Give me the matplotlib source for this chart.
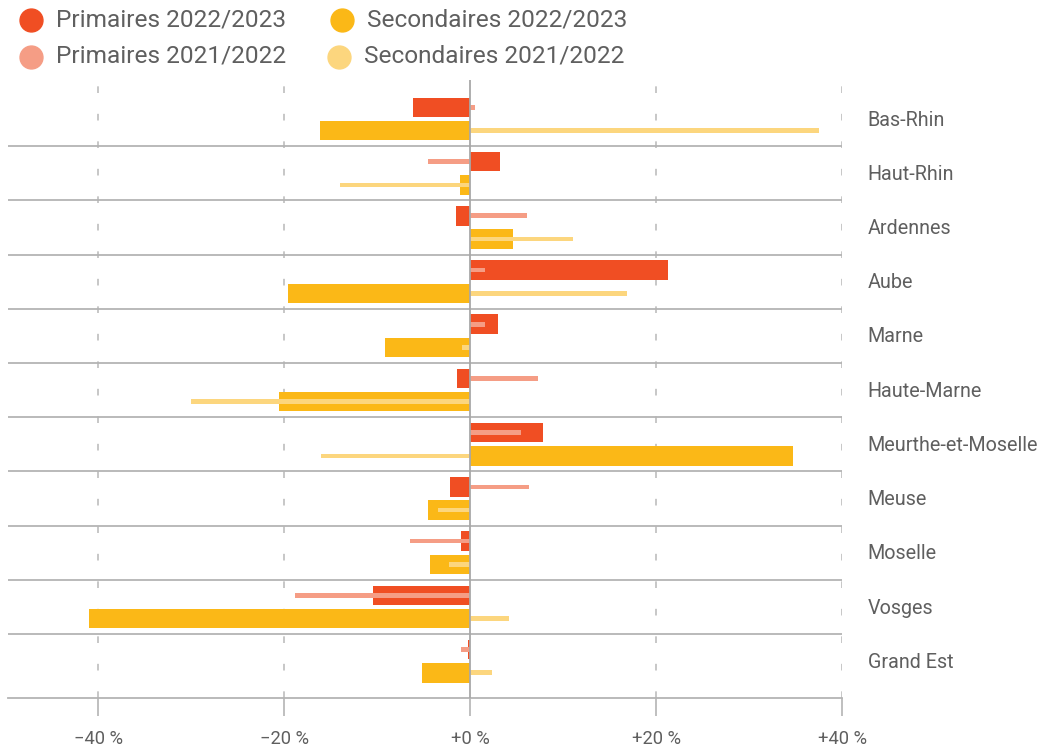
import matplotlib
matplotlib.use('Agg')
import matplotlib.pyplot as plt
from matplotlib.lines import Line2D
import matplotlib.transforms as mtransforms
import numpy as np

plt.rcParams['font.family'] = ['Roboto', 'DejaVu Sans']

# Data: evolution (%) per departement
departements = ['Bas-Rhin', 'Haut-Rhin', 'Ardennes', 'Aube', 'Marne', 'Haute-Marne',
                'Meurthe-et-Moselle', 'Meuse', 'Moselle', 'Vosges', 'Grand Est']
primaires_2223 = [-6.1, 3.2, -1.5, 21.3, 3.0, -1.4, 7.8, -2.2, -1.0, -10.4, -0.2]
primaires_2122 = [0.5, -4.5, 6.1, 1.6, 1.6, 7.3, 5.5, 6.3, -6.5, -18.8, -1.0]
secondaires_2223 = [-16.1, -1.1, 4.6, -19.6, -9.2, -20.6, 34.7, -4.5, -4.3, -41.0, -5.2]
secondaires_2122 = [37.5, -14.0, 11.1, 16.9, -0.9, -30.0, -16.0, -3.5, -2.3, 4.2, 2.4]

xticks = [-40, -20, 0, 20, 40]
xtick_labels = ['\u221240 %', '\u221220 %', '+0 %', '+20 %', '+40 %']

col_p22 = '#F04E23'
col_p21 = '#F59D85'
col_s22 = '#FBB817'
col_s21 = '#FCD67E'
grey_txt = '#5f5f5f'
grey_line = '#b4b4b4'

fig = plt.figure(figsize=(10.46, 7.48), dpi=100)
ax = fig.add_axes([8/1046, 1 - 698/748, (842 - 8)/1046, (698 - 80)/748])

y = np.arange(len(departements))
off = 0.215
thick = 0.36
thin = 0.085

ax.barh(y - off, primaires_2223, height=thick, color=col_p22, zorder=3)
ax.barh(y + off, secondaires_2223, height=thick, color=col_s22, zorder=3)
ax.barh(y - off, primaires_2122, height=thin, color=col_p21, zorder=4)
ax.barh(y + off, secondaires_2122, height=thin, color=col_s21, zorder=4)

ax.set_xlim(-49.7, 40)
ax.set_ylim(10.68, -0.72)

# group separators
for i in range(len(departements) - 1):
    ax.axhline(i + 0.5, color=grey_line, lw=1.3, zorder=1)

# vertical grid
for t in [-40, -20, 20, 40]:
    ax.axvline(t, color='#bdbdbd', lw=1.2, ls=(0, (4, 12.5)), zorder=0)
ax.axvline(0, color='#a8a8a8', lw=1.3, zorder=5)

for side in ['left', 'right', 'top']:
    ax.spines[side].set_visible(False)
ax.spines['bottom'].set_color(grey_line)
ax.spines['bottom'].set_linewidth(1.3)

ax.set_yticks([])
ax.set_xticks(xticks)
ax.set_xticklabels(xtick_labels)
ax.tick_params(axis='x', length=13, width=1.2, color=grey_line, labelsize=13.2,
               labelcolor=grey_txt, pad=10)

trans = mtransforms.blended_transform_factory(ax.transAxes, ax.transData)
for i, name in enumerate(departements):
    ax.text(1.031, i + 0.02, name, transform=trans, ha='left', va='center',
            fontsize=14.2, color=grey_txt)

# legend
legend_items = [
    (30.5, 20, 56, col_p22, 'Primaires 2022/2023'),
    (342, 20, 367, col_s22, 'Secondaires 2022/2023'),
    (30.5, 56.5, 56, col_p21, 'Primaires 2021/2022'),
    (339, 56.5, 364, col_s21, 'Secondaires 2021/2022'),
]
for cx, cy, tx, col, lab in legend_items:
    fy = 1 - cy / 748
    fig.add_artist(Line2D([cx / 1046], [fy], marker='o', markersize=16.5, color=col,
                          linestyle='none', transform=fig.transFigure))
    fig.text(tx / 1046, fy, lab, ha='left', va='center', fontsize=17.6, color=grey_txt)

fig.savefig('out.png', dpi=100)
